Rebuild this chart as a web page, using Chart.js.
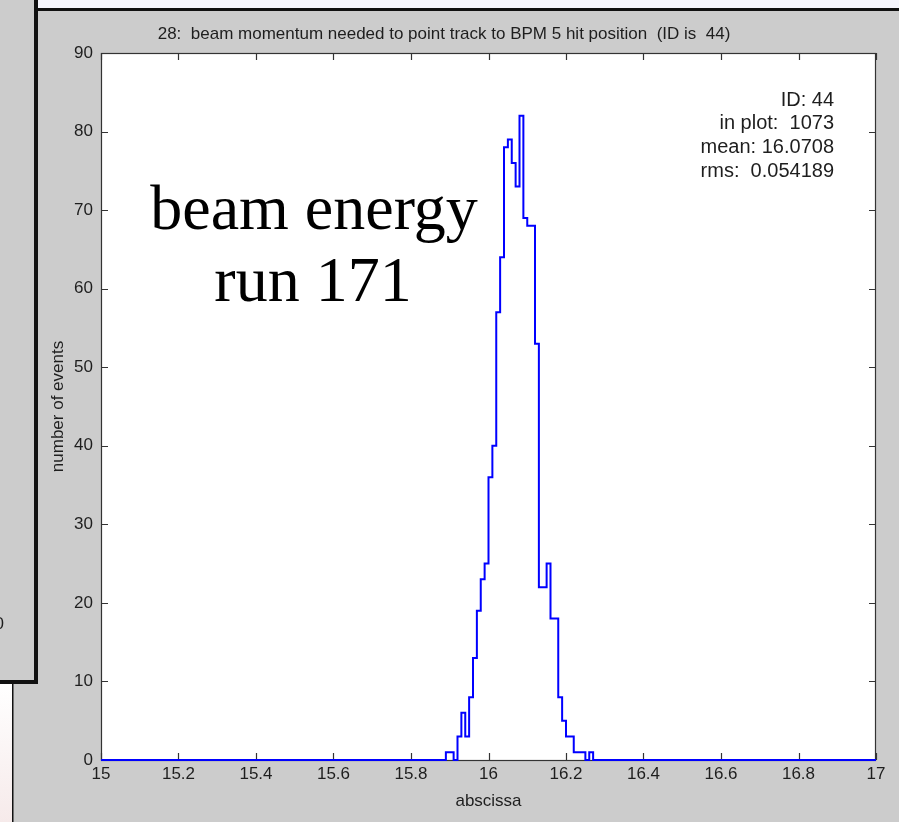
<!DOCTYPE html>
<html>
<head>
<meta charset="utf-8">
<script src="https://cdn.jsdelivr.net/npm/chart.js@4/dist/chart.umd.min.js"></script>
<style>
html, body { margin: 0; padding: 0; background: #cccccc; }
canvas { display: block; }
</style>
</head>
<body>
<canvas id="hist" width="899" height="822"></canvas>
<script>
// histogram: first filled bin's left edge, bin width, counts per bin
const binStart = 15.89;
const binWidth = 0.01;
const counts = [1, 1, 0, 3, 6, 3, 8, 13, 19, 23, 25,
  36, 40, 57, 64, 78, 79, 76, 73, 82, 69, 68, 68, 53,
  22, 22, 25, 18, 18, 8, 5, 3, 3, 1, 1, 1, 0, 1];
const xRange = [15, 17];
const yRange = [0, 90];
const xStep = 0.2;
const yStep = 10;
const titleText = '28:  beam momentum needed to point track to BPM 5 hit position  (ID is  44)';
const statLines = ['ID: 44', 'in plot:  1073', 'mean: 16.0708', 'rms:  0.054189'];
const noteLines = ['beam energy', 'run 171'];

const sans = '"Liberation Sans", Arial, sans-serif';
const txt = '#1e1e1e';

// step points at bin left edges, zero outside the filled range
const points = [{ x: xRange[0], y: 0 }];
counts.forEach((c, i) => {
  points.push({ x: +(binStart + i * binWidth).toFixed(2), y: c });
});
points.push({ x: +(binStart + counts.length * binWidth).toFixed(2), y: 0 });
points.push({ x: xRange[1], y: 0 });

const frame = {
  id: 'frame',
  beforeDraw(chart) {
    const ctx = chart.ctx;
    const a = chart.chartArea;
    ctx.save();
    ctx.fillStyle = '#cccccc';
    ctx.fillRect(0, 0, 899, 822);
    // window strip on top
    ctx.fillStyle = '#f6f6fd';
    ctx.fillRect(38, 0, 861, 8);
    ctx.fillStyle = '#111';
    ctx.fillRect(36, 8, 863, 3);
    // neighbouring window on the left
    ctx.fillRect(34, 0, 4, 684);
    ctx.fillRect(0, 680, 38, 4);
    const g = ctx.createLinearGradient(0, 684, 0, 822);
    g.addColorStop(0, '#ffffff');
    g.addColorStop(1, '#f6eaea');
    ctx.fillStyle = g;
    ctx.fillRect(0, 684, 12, 138);
    ctx.fillStyle = '#111';
    ctx.fillRect(12, 684, 1.5, 138);
    ctx.fillStyle = txt;
    ctx.font = '17px ' + sans;
    ctx.textAlign = 'right';
    ctx.textBaseline = 'middle';
    ctx.fillText('0', 4, 624);
    // plot area
    ctx.fillStyle = '#ffffff';
    ctx.fillRect(a.left, a.top, a.right - a.left, a.bottom - a.top);
    ctx.restore();
  },
  beforeDatasetsDraw(chart) {
    const ctx = chart.ctx;
    const a = chart.chartArea;
    const xs = chart.scales.x;
    const ys = chart.scales.y;
    const len = 7;
    ctx.save();
    ctx.strokeStyle = '#333';
    ctx.lineWidth = 1.2;
    ctx.strokeRect(a.left + 0.5, a.top + 0.5, a.right - a.left - 1, a.bottom - a.top);
    ctx.beginPath();
    xs.ticks.forEach(t => {
      const px = Math.round(xs.getPixelForValue(t.value)) + 0.5;
      ctx.moveTo(px, a.bottom); ctx.lineTo(px, a.bottom - len);
      ctx.moveTo(px, a.top); ctx.lineTo(px, a.top + len);
    });
    ys.ticks.forEach(t => {
      const py = Math.round(ys.getPixelForValue(t.value)) + 0.5;
      ctx.moveTo(a.left, py); ctx.lineTo(a.left + len, py);
      ctx.moveTo(a.right, py); ctx.lineTo(a.right - len, py);
    });
    ctx.stroke();
    ctx.restore();
  },
  afterDraw(chart) {
    const ctx = chart.ctx;
    ctx.save();
    ctx.fillStyle = txt;
    ctx.font = '17px ' + sans;
    ctx.textAlign = 'center';
    ctx.textBaseline = 'middle';
    ctx.fillText(titleText, 444, 34);
    // stats box, top right
    ctx.font = '20px ' + sans;
    ctx.textAlign = 'right';
    statLines.forEach((s, i) => ctx.fillText(s, 834, 100 + i * 23.7));
    // hand-written note
    ctx.fillStyle = '#000';
    ctx.font = '64px "Liberation Serif", "Times New Roman", serif';
    ctx.textAlign = 'center';
    ctx.textBaseline = 'alphabetic';
    ctx.fillText(noteLines[0], 314, 229);
    ctx.fillText(noteLines[1], 313, 301);
    ctx.restore();
  }
};

new Chart(document.getElementById('hist'), {
  type: 'line',
  data: {
    datasets: [{
      data: points,
      stepped: true,
      borderColor: '#0000ff',
      borderWidth: 2,
      pointRadius: 0,
      fill: false,
      clip: 4
    }]
  },
  options: {
    responsive: false,
    animation: false,
    layout: { padding: { left: 0, top: 53, right: 23, bottom: 0 } },
    plugins: { legend: { display: false }, tooltip: { enabled: false } },
    scales: {
      x: {
        type: 'linear',
        min: xRange[0],
        max: xRange[1],
        grid: { display: false },
        border: { display: false },
        ticks: {
          stepSize: xStep,
          autoSkip: false,
          maxRotation: 0,
          padding: -4,
          color: txt,
          font: { family: sans, size: 17 },
          callback: v => String(parseFloat(v.toFixed(1)))
        },
        title: {
          display: true,
          text: 'abscissa',
          color: txt,
          font: { family: sans, size: 17 },
          padding: { top: 0, bottom: 10 }
        },
        afterFit: s => { s.height = 62; }
      },
      y: {
        min: yRange[0],
        max: yRange[1],
        grid: { display: false },
        border: { display: false },
        ticks: {
          stepSize: yStep,
          padding: 0,
          color: txt,
          font: { family: sans, size: 17 }
        },
        title: {
          display: true,
          text: 'number of events',
          color: txt,
          font: { family: sans, size: 17 },
          padding: { top: 48, bottom: 0 }
        },
        afterFit: s => { s.width = 101; }
      }
    }
  },
  plugins: [frame]
});
</script>
</body>
</html>
